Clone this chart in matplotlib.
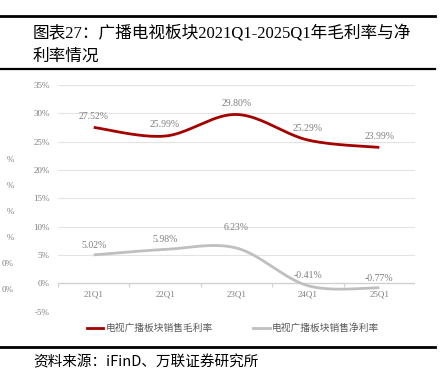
import matplotlib
matplotlib.use("Agg")
import matplotlib.pyplot as plt
import numpy as np
from matplotlib.lines import Line2D

quarters = ["21Q1", "22Q1", "23Q1", "24Q1", "25Q1"]
gross_margin = [27.52, 25.99, 29.80, 25.29, 23.99]
net_margin = [5.02, 5.98, 6.23, -0.41, -0.77]
y_ticks = [-5, 0, 5, 10, 15, 20, 25, 30, 35]
series_names = ["电视广播板块销售毛利率", "电视广播板块销售净利率"]
title_lines = ["图表27：广播电视板块2021Q1-2025Q1年毛利率与净", "利率情况"]
source_text = "资料来源：iFinD、万联证券研究所"

RED = "#A50000"
GRAY = "#BFBFBF"
TXT = "#7F7F7F"
SERIF = ["Liberation Serif", "Noto Sans CJK SC"]
CJK = ["Noto Sans CJK SC", "DejaVu Sans"]

W, H = 440, 381


def fx(px):
    return px / W


def fy(py):
    return 1 - py / H


def smooth(x, y, n=40):
    # Catmull-Rom style bezier smoothing, like office "smoothed line"
    x = np.asarray(x, float)
    y = np.asarray(y, float)
    px = np.concatenate([[x[0]], x, [x[-1]]])
    py = np.concatenate([[y[0]], y, [y[-1]]])
    xs, ys = [], []
    t = np.linspace(0, 1, n)
    for i in range(1, len(px) - 2):
        p0 = np.array([px[i], py[i]])
        p3 = np.array([px[i + 1], py[i + 1]])
        c1 = p0 + (np.array([px[i + 1], py[i + 1]]) - np.array([px[i - 1], py[i - 1]])) / 6
        c2 = p3 - (np.array([px[i + 2], py[i + 2]]) - np.array([px[i], py[i]])) / 6
        b = ((1 - t) ** 3)[:, None] * p0 + (3 * (1 - t) ** 2 * t)[:, None] * c1 \
            + (3 * (1 - t) * t ** 2)[:, None] * c2 + (t ** 3)[:, None] * p3
        xs.append(b[:, 0])
        ys.append(b[:, 1])
    return np.concatenate(xs), np.concatenate(ys)


fig = plt.figure(figsize=(4.4, 3.81), dpi=100)

# rules and title
for yy, lw in [(16, 2.0), (69, 1.6), (347, 2.0)]:
    fig.add_artist(Line2D([0, fx(435)], [fy(yy), fy(yy)], color="black", lw=lw))
fig.text(fx(33), fy(33), title_lines[0], fontsize=12, family=SERIF, va="center", ha="left")
fig.text(fx(33), fy(57), title_lines[1], fontsize=12, family=SERIF, va="center", ha="left")
fig.text(fx(33), fy(362), source_text, fontsize=10.5, family=CJK, va="center", ha="left",
         style="italic")

# leftover labels from a neighbouring chart at the left edge
for yy, s in zip([160, 186, 212, 238, 264, 290], ["%", "%", "%", "%", "0%", "0%"]):
    fig.text(fx(14), fy(yy), s, fontsize=6.5, family=SERIF, color=TXT, ha="right", va="center")

ax = fig.add_axes([fx(58), fy(311.7), fx(415) - fx(58), fy(85) - fy(311.7)])
ax.set_xlim(-0.5, 4.5)
ax.set_ylim(-5, 35)
for s in ax.spines.values():
    s.set_visible(False)
ax.set_xticks([])
ax.set_yticks(y_ticks)
ax.set_yticklabels([f"{v}%" for v in y_ticks], family=SERIF, fontsize=6.5, color=TXT)
ax.tick_params(axis="y", length=0, pad=6)
ax.grid(axis="y", color="#E3E3E3", lw=0.8)
ax.axhline(0, color="#D0D0D0", lw=0.9)
xi = np.arange(len(quarters))
ax.vlines(np.arange(-0.5, 5, 1), -0.6, 0, color="#D0D0D0", lw=0.8)
for i, q in enumerate(quarters):
    ax.annotate(q, (i, 0), xytext=(0, -5), textcoords="offset points", ha="center", va="top",
                fontsize=6.5, family=SERIF, color=TXT)

sx, sy = smooth(xi, gross_margin)
ax.plot(sx, sy, color=RED, lw=2.0, solid_capstyle="butt")
sx, sy = smooth(xi, net_margin)
ax.plot(sx, sy, color=GRAY, lw=2.0, solid_capstyle="butt")

for i, v in enumerate(gross_margin):
    ax.annotate(f"{v:.2f}%", (i, v), xytext=(0, 8), textcoords="offset points", ha="center",
                va="center", fontsize=7, family=SERIF, color=TXT)
for i, v in enumerate(net_margin):
    off = 15 if i == 2 else 7
    ax.annotate(f"{v:.2f}%", (i, v), xytext=(0, off), textcoords="offset points", ha="center",
                va="center", fontsize=7, family=SERIF, color=TXT)

handles = [Line2D([], [], color=RED, lw=2), Line2D([], [], color=GRAY, lw=2)]
leg = fig.legend(handles, series_names, loc="center", bbox_to_anchor=(fx(233), fy(328)), ncol=2,
                 frameon=False, prop={"family": CJK, "size": 7}, handlelength=1.7,
                 handletextpad=0.2, columnspacing=4.2)
for t in leg.get_texts():
    t.set_color("#595959")

fig.savefig("out.png", dpi=100)
